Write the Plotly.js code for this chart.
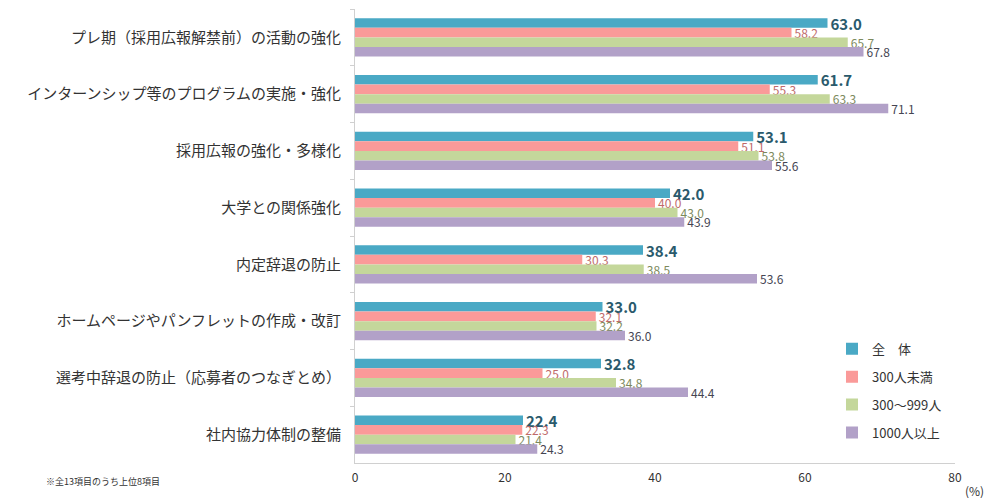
<!DOCTYPE html>
<html><head><meta charset="utf-8">
<script src="https://cdn.plot.ly/plotly-3.0.1.min.js"></script>
<style>body{margin:0;background:#fff}#chart{width:1000px;height:498px}</style>
</head><body><div id="chart"></div>
<script>
const categories = [
  "プレ期（採用広報解禁前）の活動の強化",
  "インターンシップ等のプログラムの実施・強化",
  "採用広報の強化・多様化",
  "大学との関係強化",
  "内定辞退の防止",
  "ホームページやパンフレットの作成・改訂",
  "選考中辞退の防止（応募者のつなぎとめ）",
  "社内協力体制の整備"
];
const seriesNames = ["全　体", "300人未満", "300～999人", "1000人以上"];
const zentai = [63.0, 61.7, 53.1, 42.0, 38.4, 33.0, 32.8, 22.4];
const under300 = [58.2, 55.3, 51.1, 40.0, 30.3, 32.1, 25.0, 22.3];
const mid300to999 = [65.7, 63.3, 53.8, 43.0, 38.5, 32.2, 34.8, 21.4];
const over1000 = [67.8, 71.1, 55.6, 43.9, 53.6, 36.0, 44.4, 24.3];
const xTicks = [0, 20, 40, 60, 80];

const font = "'Noto Sans CJK JP', 'Noto Sans', sans-serif";
const series = [zentai, under300, mid300to999, over1000];
const colors = ["#4aa9c5", "#fa9a99", "#c4d79b", "#b2a1c8"];
const textColors = ["#2a5a6c", "#c06a6a", "#7d8a5c", "#454552"];
const textSizes = [15, 12, 12, 12];

const traces = series.map((vals, i) => ({
  type: "bar",
  orientation: "h",
  name: seriesNames[i],
  legendgroup: "g" + i,
  y: categories,
  x: vals,
  marker: {color: colors[i]},
  text: vals.map(v => i === 0 ? "<b>" + v.toFixed(1) + "</b>" : v.toFixed(1)),
  textposition: "outside",
  cliponaxis: false,
  constraintext: "none",
  textfont: {family: font, size: textSizes[i], color: textColors[i]},
  hoverinfo: "x+name"
}));

const layout = {
  width: 1000, height: 498,
  margin: {l: 355, r: 45, t: 9, b: 35},
  paper_bgcolor: "#fff", plot_bgcolor: "#fff",
  barmode: "group",
  bargap: 0.33, bargroupgap: 0,
  font: {family: font, color: "#333"},
  xaxis: {
    range: [0, 80], tickvals: xTicks, ticktext: xTicks.map(String),
    showgrid: false, zeroline: false,
    showline: true, linecolor: "#d0d0d0", linewidth: 1,
    ticks: "", ticklabelstandoff: 4, tickfont: {size: 12, color: "#333"}
  },
  yaxis: {
    autorange: "reversed", type: "category",
    showgrid: false, zeroline: false,
    showline: true, linecolor: "#d0d0d0", linewidth: 1,
    ticks: "outside", tickson: "boundaries", ticklen: 4, tickcolor: "#d0d0d0",
    ticklabelstandoff: 10,
    tickfont: {size: 15, color: "#333"}
  },
  legend: {
    x: 0.795, y: 0.159, xanchor: "left", yanchor: "middle",
    font: {size: 13, color: "#333"}, tracegroupgap: 8,
    itemwidth: 30, bgcolor: "rgba(0,0,0,0)"
  },
  annotations: [
    {text: "(%)", xref: "paper", yref: "paper", x: 1.033, y: 0, yshift: -27,
     showarrow: false, font: {size: 12, color: "#333"}, xanchor: "center", yanchor: "middle"},
    {text: "※全13項目のうち上位8項目", xref: "paper", yref: "paper", x: -0.518, y: 0, yshift: -18,
     showarrow: false, font: {size: 9, color: "#333"}, xanchor: "left", yanchor: "middle"}
  ],
  showlegend: true
};

Plotly.newPlot("chart", traces, layout, {displayModeBar: false, staticPlot: true});
</script></body></html>
